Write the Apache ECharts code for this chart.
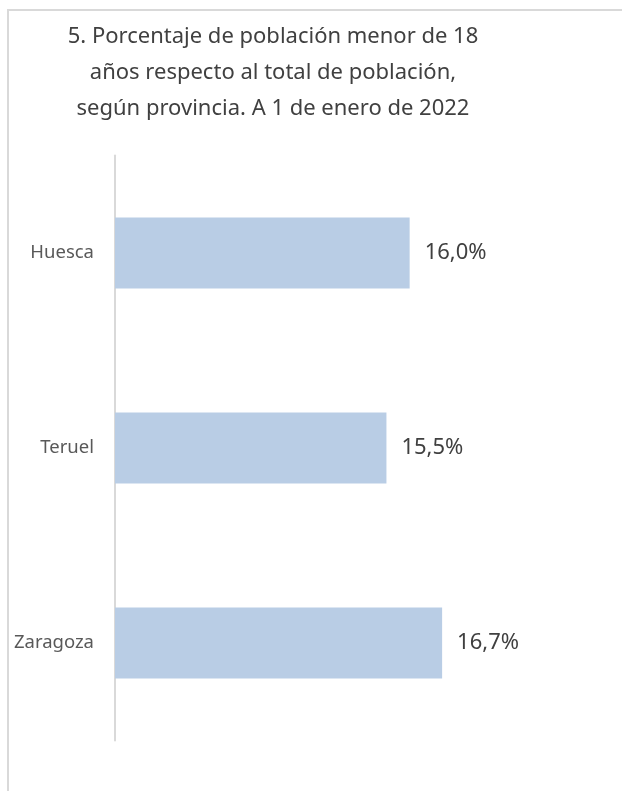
<!DOCTYPE html>
<html>
<head>
<meta charset="utf-8">
<script src="https://cdn.jsdelivr.net/npm/echarts@6/dist/echarts.min.js"></script>
<style>
html,body{margin:0;padding:0;background:#fff;}
#chart{width:622px;height:791px;}
</style>
</head>
<body>
<div id="chart"></div>
<script>
const titleLines = ['5. Porcentaje de población menor de 18', 'años respecto al total de población,', 'según provincia. A 1 de enero de 2022'];
const categories = ['Huesca', 'Teruel', 'Zaragoza'];
const values = [16.0, 15.5, 16.7];

const chart = echarts.init(document.getElementById('chart'));
const FONT = '"Noto Sans", sans-serif';
chart.setOption({
  animation: false,
  backgroundColor: '#ffffff',
  graphic: [
    { type: 'rect', shape: { x: 8, y: 10, width: 700, height: 900 }, style: { fill: 'none', stroke: '#d9d9d9', lineWidth: 2 }, silent: true },
    { type: 'text', x: 273, y: 19, style: { text: titleLines.join('\n'), align: 'center', textAlign: 'center', verticalAlign: 'top', textVerticalAlign: 'top', fontFamily: FONT, fontSize: 22, lineHeight: 36, fill: '#404040' } }
  ],
  grid: { left: 115, top: 155.5, height: 585, width: 464, containLabel: false },
  xAxis: {
    type: 'value', min: 9.65, max: 19.65, show: false, splitLine: { show: false }
  },
  yAxis: {
    type: 'category', data: categories, inverse: true,
    axisLine: { show: true, lineStyle: { color: '#d9d9d9', width: 2 } },
    axisTick: { show: false },
    axisLabel: { margin: 21, color: '#595959', fontFamily: FONT, fontSize: 18.5 }
  },
  series: [{
    type: 'bar', data: values, barWidth: 71,
    itemStyle: { color: '#b9cde5' },
    label: {
      show: true, position: 'right', distance: 15, color: '#404040', fontFamily: FONT, fontSize: 22,
      formatter: p => p.value.toFixed(1).replace('.', ',') + '%'
    }
  }]
});
</script>
</body>
</html>
